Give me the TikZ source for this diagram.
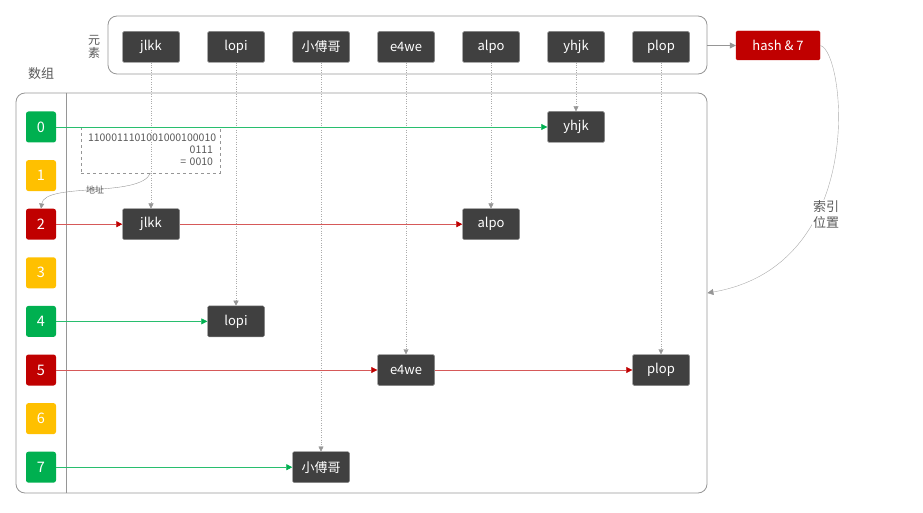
\documentclass[tikz,border=0pt]{standalone}
\usepackage{fontspec}
\setmainfont{Noto Sans CJK SC}
\usetikzlibrary{arrows.meta, positioning}
\definecolor{elemgray}{RGB}{64,64,64}
\definecolor{idxgreen}{RGB}{0,176,80}
\definecolor{idxyellow}{RGB}{255,192,0}
\definecolor{idxred}{RGB}{192,0,0}
\definecolor{linegray}{RGB}{150,150,150}
\definecolor{labelgray}{RGB}{89,89,89}
\definecolor{linkgreen}{RGB}{40,190,110}

\tikzset{
  elem/.style={fill=elemgray, draw=elemgray!60, rounded corners=1.5, minimum width=57,
    minimum height=31, inner sep=0, text=white, font=\fontsize{13}{15}\selectfont},
  idx/.style={rounded corners=2.5, minimum width=30, minimum height=31, inner sep=0,
    text=white, font=\fontsize{14.5}{16}\selectfont},
  panel/.style={draw=linegray, thick, rounded corners=9, inner sep=0},
  drop/.style={dotted, linegray!80, -{Triangle[length=5,width=5,color=linegray]}},
  greenlink/.style={color=linkgreen, line width=0.6, -{Triangle[length=6,width=6,color=idxgreen]}},
  redlink/.style={color=idxred!65, line width=0.6, -{Triangle[length=6,width=6,color=idxred]}},
  graylink/.style={linegray, -{Triangle[length=6,width=6]}},
  caption/.style={text=labelgray, font=\fontsize{13}{16}\selectfont, align=center}
}

\begin{document}
\begin{tikzpicture}[x=1pt, y=-1pt]
    \useasboundingbox (0,0) rectangle (923,513);

    % Elements row
    \node[panel, minimum width=599, minimum height=58] (elems) at (407.5,45) {};
    \node[caption, font=\fontsize{12}{13}\selectfont] (elemtitle) at (94,47) {元\\素};
    \foreach \name/\txt [count=\i from 0] in {jlkk/jlkk, lopi/lopi, xfg/小傅哥, e4we/e4we,
        alpo/alpo, yhjk/yhjk, plop/plop}
        \node[elem] (e-\name) at (151+85*\i,47) {\txt};

    % Hash
    \node[elem, fill=idxred, draw=idxred, minimum width=84, minimum height=29] (hash)
          at (778,45.5) {hash \& 7};
    \draw[graylink] (elems.east |- hash.west) -- (hash.west);

    % Array
    \node[caption] (arrtitle) at (41,74) {数组};
    \node[panel, minimum width=691, minimum height=400] (arr) at (361.5,293) {};
    \draw[linegray] ([xshift=51]arr.north west) -- ([xshift=51]arr.south west);

    \foreach \c [count=\i from 0] in {idxgreen, idxyellow, idxred, idxyellow,
        idxgreen, idxred, idxyellow, idxgreen}
        \node[idx, fill=\c] (i\i) at (41,127+48.6*\i) {\i};

    % Stored elements
    \node[elem] (r-yhjk) at (e-yhjk |- i0) {yhjk};
    \node[elem] (r-jlkk) at (e-jlkk |- i2) {jlkk};
    \node[elem] (r-alpo) at (e-alpo |- i2) {alpo};
    \node[elem] (r-lopi) at (e-lopi |- i4) {lopi};
    \node[elem] (r-e4we) at (e-e4we |- i5) {e4we};
    \node[elem] (r-plop) at (e-plop |- i5) {plop};
    \node[elem] (r-xfg) at (e-xfg |- i7) {小傅哥};

    % Address calculation
    \node[draw=linegray, dashed, minimum width=139, minimum height=44,
          text width=125, align=right, inner sep=7, text=labelgray,
          font=\fontsize{10.5}{12}\selectfont] (calc) at (150.5,150)
          {1100011101001000100010\\0111\\= 0010};
    \draw[linegray, -{Triangle[length=5,width=5]}] (calc.south)
          .. controls (140,198) and (45,182) .. (i2.north);
    \node[text=labelgray, font=\fontsize{9}{10}\selectfont] (addr) at (95,190) {地址};

    \foreach \name in {jlkk, lopi, xfg, e4we, alpo, yhjk, plop}
        \draw[drop] (e-\name.south) -- (r-\name.north);

    \draw[greenlink] (i0.east) -- (r-yhjk.west);
    \draw[redlink] (i2.east) -- (r-jlkk.west);
    \draw[redlink] (r-jlkk.east) -- (r-alpo.west);
    \draw[greenlink] (i4.east) -- (r-lopi.west);
    \draw[redlink] (i5.east) -- (r-e4we.west);
    \draw[redlink] (r-e4we.east) -- (r-plop.west);
    \draw[greenlink] (i7.east) -- (r-xfg.west);

    % Index position
    \draw[linegray!80, -{Triangle[length=6,width=6,color=linegray]}] (hash.east)
          .. controls (845,50) and (870,265) .. (arr.east);
    \node[caption, fill=white, inner sep=1] (pos) at (826,215) {索引\\位置};
\end{tikzpicture}
\end{document}
